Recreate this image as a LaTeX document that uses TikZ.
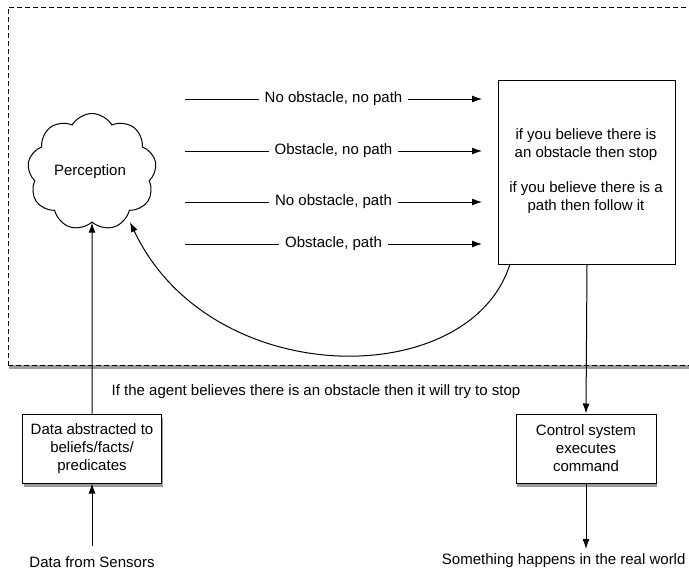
\documentclass[tikz,border=0pt]{standalone}
\usepackage{fontspec}
\setmainfont{Liberation Sans}
\usetikzlibrary{arrows.meta,shapes.symbols,shadows}
\begin{document}
\begin{tikzpicture}[x=1pt,y=-1pt,
  font=\fontsize{15}{18}\selectfont,
  arr/.style={-{Latex[length=10pt,width=7pt]},line width=1pt},
  lbl/.style={fill=white,inner xsep=6pt,inner ysep=1pt},
  box/.style={draw,line width=1pt,fill=white,align=center},
  shad/.style={drop shadow={shadow xshift=1pt,shadow yshift=-3.5pt,opacity=0.55,fill=black!70}}]
\clip (0,0) rectangle (689,571);
\fill[white] (0,0) rectangle (689,571);
% outer dashed region
\node[draw,dash pattern=on 5pt off 3pt,line width=0.9pt,fill=white,shad,minimum width=700pt,minimum height=358pt,anchor=north west,inner sep=0pt] (region) at (8,7) {};
% perception cloud
\node[cloud,draw,line width=1pt,cloud puffs=9,cloud puff arc=120,aspect=1.1,minimum width=129pt,minimum height=117pt,inner sep=0pt] (cloud) at (92,172) {};
\node (perc) at (90,172) {Perception};
% rule box
\node[box,minimum width=177pt,minimum height=184pt,anchor=north west,inner sep=0pt] (rules) at (498,80) {};
\node[align=center] (rt1) at (586,145) {if you believe there is\\an obstacle then stop};
\node[align=center] (rt2) at (586,198) {if you believe there is a\\path then follow it};
% belief arrows
\coordinate (s1) at (185,99);  \coordinate (e1) at (482,99);
\coordinate (s2) at (185,151); \coordinate (e2) at (482,151);
\coordinate (s3) at (185,202); \coordinate (e3) at (482,202);
\coordinate (s4) at (185,244); \coordinate (e4) at (482,244);
\draw[arr] (s1) -- node[lbl] (l1) {No obstacle, no path} (e1);
\draw[arr] (s2) -- node[lbl] (l2) {Obstacle, no path} (e2);
\draw[arr] (s3) -- node[lbl] (l3) {No obstacle, path} (e3);
\draw[arr] (s4) -- node[lbl] (l4) {Obstacle, path} (e4);
% feedback curve
\coordinate (fb) at (510,264);
\coordinate (ct) at (130,222);
\draw[arr] (fb) .. controls (470,392) and (210,392) .. (ct);
% lower boxes
\node[box,shad,minimum width=139pt,minimum height=69pt,inner sep=2pt] (data) at (92,448.5) {Data abstracted to\\beliefs/facts/\\predicates};
\node[box,shad,minimum width=140pt,minimum height=69pt,inner sep=2pt] (ctrl) at (586,448.5) {Control system\\executes\\command};
\node (sens) at (92,562) {Data from Sensors};
\node[anchor=east] (world) at (689,561) {Something happens in the real world};
\node (stop) at (316,392) {If the agent believes there is an obstacle then it will try to stop};
\coordinate (sensT) at (92,546);
\coordinate (worldT) at (586,549);
\draw[arr] (data.north) -- (cloud.south);
\draw[arr] (sensT) -- (data.south);
\draw[arr] (rules.south) -- (ctrl.north);
\draw[arr] (ctrl.south) -- (worldT);
\end{tikzpicture}
\end{document}
